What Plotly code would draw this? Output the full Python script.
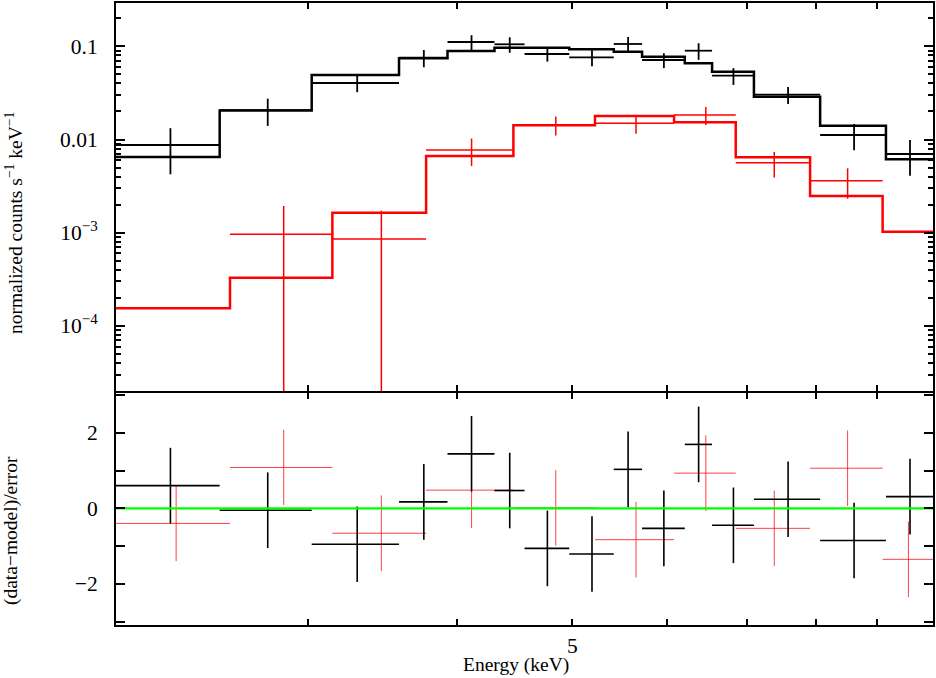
import plotly.graph_objects as go
import math

# ---------------- data ----------------
# black spectrum: channel bin edges in keV
black_edges = [2.071, 2.530, 3.022, 3.577, 3.928, 4.301, 4.558, 4.969, 5.415,
               5.719, 6.211, 6.547, 7.098, 8.066, 9.159, 10.03]
black_data = [0.00873, 0.0207, 0.0404, 0.0754, 0.1112, 0.1051, 0.0827, 0.0762,
              0.1059, 0.0713, 0.0897, 0.0484, 0.0303, 0.01118, 0.00699]
black_err = [0.0045, 0.0067, 0.0082, 0.0158, 0.0205, 0.0198, 0.0142, 0.0150,
             0.0198, 0.0130, 0.0182, 0.0099, 0.0062, 0.0035, 0.0029]
black_model = [0.00649, 0.0205, 0.0492, 0.0745, 0.0890, 0.0966, 0.0966, 0.0929,
               0.0875, 0.0773, 0.0657, 0.0534, 0.0288, 0.01406, 0.00613]
black_resid = [0.60, -0.05, -0.95, 0.17, 1.44, 0.47, -1.06, -1.21, 1.03, -0.53,
               1.69, -0.45, 0.24, -0.85, 0.31]

# red spectrum
red_edges = [2.071, 2.581, 3.145, 3.769, 4.461, 5.222, 6.084, 6.853, 7.911,
             9.100, 10.03]
red_data = [None, 9.61e-4, 8.56e-4, 7.72e-3, 0.01431, 0.01492, 0.01833,
            5.64e-3, 3.61e-3, None]
red_err = [0, 9.73e-4, 8.66e-4, 2.53e-3, 0.0033, 0.0034, 0.0040, 1.72e-3,
           1.30e-3, 0]
red_model = [1.545e-4, 3.29e-4, 1.639e-3, 6.65e-3, 0.0142, 0.01787, 0.01529,
             6.44e-3, 2.476e-3, 1.025e-3]
red_resid = [-0.40, 1.08, -0.66, 0.48, 0.01, -0.83, 0.93, -0.53, 1.06, -1.35]
resid_err = 1.0

# axis tick labels
x_tickvals = [3, 4, 5, 6, 7, 8, 9]
x_ticktext = ["", "", "5", "", "", "", ""]
top_tickvals = [1e-4, 1e-3, 1e-2, 1e-1]
top_ticktext = ["10<sup>\u22124</sup>", "10<sup>\u22123</sup>", "0.01", "0.1"]
bot_tickvals = [-3, -2, -1, 0, 1, 2, 3]
bot_ticktext = ["", "\u22122", "", "0", "", "2", ""]

FONT = "Liberation Serif"
RED = "#ff0000"
BLACK = "#000000"
GREEN = "#00ff00"
CLEAR = "rgba(0,0,0,0)"


def bins(edges):
    lo = edges[:-1]
    hi = edges[1:]
    c = [(a + b) / 2 for a, b in zip(lo, hi)]
    plus = [b - m for b, m in zip(hi, c)]
    minus = [m - a for a, m in zip(lo, c)]
    return c, plus, minus


fig = go.Figure()

bc, bp, bm = bins(black_edges)
rc, rp, rm = bins(red_edges)


def cross(x, y, xp, xm, ey, color, thick, xa, ya):
    return go.Scatter(
        x=x, y=y, mode="markers", xaxis=xa, yaxis=ya,
        marker=dict(size=1, color=CLEAR, line=dict(width=0)),
        error_x=dict(type="data", symmetric=False, array=xp, arrayminus=xm,
                     width=0, thickness=thick, color=color),
        error_y=dict(type="data", array=ey, width=0, thickness=thick,
                     color=color),
        showlegend=False, hoverinfo="skip")


# top panel: models (step lines) and data crosses
fig.add_trace(go.Scatter(x=red_edges, y=red_model + [red_model[-1]],
                         mode="lines", line=dict(shape="hv", color=RED, width=2.5),
                         xaxis="x2", yaxis="y2", showlegend=False))
fig.add_trace(cross(rc, red_data, rp, rm, red_err, RED, 1.5, "x2", "y2"))
fig.add_trace(go.Scatter(x=black_edges, y=black_model + [black_model[-1]],
                         mode="lines", line=dict(shape="hv", color=BLACK, width=2.5),
                         xaxis="x2", yaxis="y2", showlegend=False))
fig.add_trace(cross(bc, black_data, bp, bm, black_err, BLACK, 1.8, "x2", "y2"))

# bottom panel: residuals
fig.add_trace(cross(rc, red_resid, rp, rm, [resid_err] * len(rc),
                    "rgba(255,0,0,0.75)", 1.0, "x", "y"))
fig.add_trace(cross(bc, black_resid, bp, bm, [resid_err] * len(bc),
                    BLACK, 1.6, "x", "y"))
fig.add_trace(go.Scatter(x=[black_edges[0], black_edges[-1]], y=[0, 0],
                         mode="lines", line=dict(color=GREEN, width=2.2),
                         xaxis="x", yaxis="y", showlegend=False))

# minor ticks for log axis
minor_vals = []
for p in range(-5, 0):
    for k in range(2, 10):
        minor_vals.append(k * 10 ** p)

axis_common = dict(showline=True, linewidth=2, linecolor=BLACK, mirror="allticks",
                   ticks="inside", tickcolor=BLACK, tickwidth=1.5,
                   showgrid=False, zeroline=False, automargin=False,
                   tickfont=dict(family=FONT, size=21.5, color=BLACK))

xr = [math.log10(black_edges[0]), math.log10(black_edges[-1])]

fig.update_layout(
    width=936, height=678,
    margin=dict(l=116, r=3, t=3, b=53),
    paper_bgcolor="white", plot_bgcolor="white",
    font=dict(family=FONT, size=19, color=BLACK),
    xaxis=dict(type="log", range=xr, domain=[0, 1], anchor="y",
               tickvals=x_tickvals, ticktext=x_ticktext, ticklen=6,
               ticklabelstandoff=0, **axis_common),
    xaxis2=dict(type="log", range=xr, domain=[0, 1], anchor="y2", matches="x",
                tickvals=x_tickvals, ticktext=x_ticktext, ticklen=6,
                showticklabels=False, **axis_common),
    yaxis=dict(domain=[0, 0.37299], range=[-3.087, 3.05], anchor="x",
               tickvals=bot_tickvals, ticktext=bot_ticktext, ticklen=9,
               ticklabelstandoff=12, **axis_common),
    yaxis2=dict(type="log", domain=[0.37621, 1], range=[-4.6985, -0.5354],
                anchor="x2",
                tickvals=top_tickvals, ticktext=top_ticktext, ticklen=9,
                ticklabelstandoff=12,
                minor=dict(tickvals=minor_vals, ticks="inside", ticklen=5,
                           tickwidth=1.5, tickcolor=BLACK, showgrid=False),
                **axis_common),
    annotations=[
        dict(text="normalized counts s<sup>\u22121</sup> keV<sup>\u22121</sup>",
             xref="paper", yref="paper", x=-0.1248, y=0.6463, textangle=-90,
             xanchor="center", yanchor="middle", showarrow=False,
             font=dict(family=FONT, size=19.5, color=BLACK)),
        dict(text="(data\u2212model)/error",
             xref="paper", yref="paper", x=-0.1285, y=0.1511, textangle=-90,
             xanchor="center", yanchor="middle", showarrow=False,
             font=dict(family=FONT, size=19.5, color=BLACK)),
        dict(text="Energy (keV)", xref="paper", yref="paper", x=0.4896, y=-0.0643,
             xanchor="center", yanchor="middle", showarrow=False,
             font=dict(family=FONT, size=19.5, color=BLACK)),
    ],
)

fig.write_html("out.html", config={"displayModeBar": False},
               post_script="document.body.style.margin='0px';")
